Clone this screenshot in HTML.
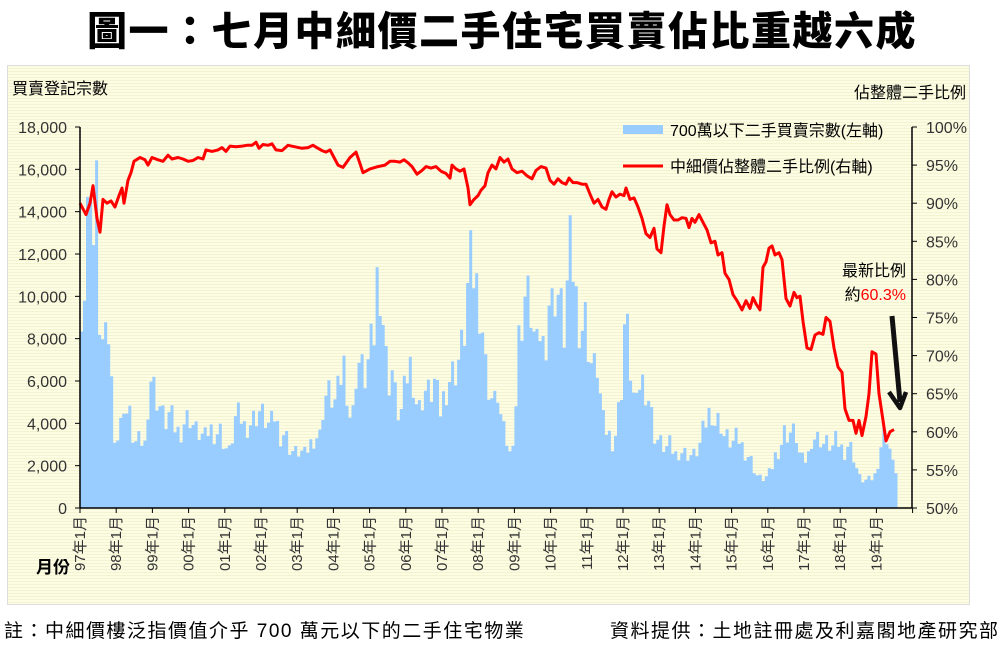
<!DOCTYPE html>
<html><head><meta charset="utf-8">
<style>
html,body{margin:0;padding:0;background:#fff;}
body{width:1004px;height:649px;overflow:hidden;position:relative;font-family:"Liberation Sans","Noto Sans CJK TC",sans-serif;}
.title{position:absolute;left:0;top:-1px;width:1004px;text-align:center;font-size:40px;font-weight:900;letter-spacing:1.5px;color:#000;font-family:"Noto Sans CJK TC","WenQuanYi Zen Hei",sans-serif;}
.panel{position:absolute;left:7px;top:65px;width:961px;height:538px;border:1px solid #ddd;
background:repeating-linear-gradient(180deg,#fdfde4 0px,#fdfde4 2px,#f3f3d2 2px,#f3f3d2 3px);}
.foot{position:absolute;top:616px;font-size:19px;color:#000;font-family:"Liberation Sans","Noto Sans CJK TC",sans-serif;letter-spacing:1.5px;white-space:nowrap;}
</style></head><body>
<div class="title">圖一：七月中細價二手住宅買賣佔比重越六成</div>
<div class="panel"></div>
<svg id="c" width="1004" height="649" style="position:absolute;left:0;top:0" font-family="Liberation Sans, Noto Sans CJK TC, sans-serif"></svg>
<div class="foot" style="left:4px">註：中細價樓泛指價值介乎 700 萬元以下的二手住宅物業</div>
<div class="foot" style="left:610px">資料提供：土地註冊處及利嘉閣地產研究部</div>
<script>
var s='';
var X0=80,Y0=508,Y1=127,R=912;
function yv(v){return Y0-(v/18000)*(Y0-Y1);}
function yp(p){return Y1+(100-p)/50*(Y0-Y1);}
var bk=[[80,10000],[84,9500],[88,14000],[90,17400],[93,13000],[95,11000],[97,15600],[100,8000],[105,7500],[110,8500],[113,3800],[116,3500],[120,3000],[122,5500],[126,4500],[130,4300],[134,3000],[140,3200],[145,3000],[148,5000],[151,6200],[155,5500],[160,4800],[165,4000],[170,4500],[175,3800],[180,3500],[185,4200],[190,4300],[195,3700],[200,3500],[205,3300],[210,3800],[215,3500],[220,3700],[225,2900],[230,2600],[235,4200],[240,4400],[245,3800],[250,4000],[255,4300],[260,4600],[265,4200],[270,3800],[275,4400],[280,3400],[285,3600],[290,2800],[295,2600],[300,2700],[305,2500],[310,3000],[315,3400],[320,3400],[323,4800],[327,5500],[332,5200],[336,4900],[340,6000],[345,7000],[348,5000],[352,3800],[356,6400],[360,7000],[364,6000],[368,6800],[372,7800],[376,8500],[378,12400],[381,10000],[384,8500],[388,5800],[392,6600],[396,5000],[400,4200],[403,5000],[406,6000],[410,6800],[414,6000],[418,4400],[422,5200],[426,5600],[430,5300],[435,6000],[440,4500],[445,5500],[450,6200],[455,6500],[460,7200],[464,8000],[467,10000],[470,11500],[474,11000],[478,10200],[482,9000],[486,6500],[490,5500],[494,4800],[498,5500],[502,3800],[506,3300],[510,2500],[513,3500],[516,5000],[519,8000],[522,9000],[525,10000],[528,9800],[532,9200],[536,7000],[540,8400],[545,7200],[548,10000],[552,9500],[556,10500],[560,9700],[564,8200],[568,11000],[571,12400],[574,11000],[578,9000],[582,8600],[586,9000],[590,7000],[594,6500],[598,6800],[602,4200],[606,3700],[610,3400],[614,3000],[618,4400],[622,6000],[625,9200],[628,8000],[632,5800],[636,4500],[640,6100],[645,5800],[650,5000],[654,3500],[658,3200],[662,3000],[666,2800],[670,3000],[675,2500],[680,2700],[685,2600],[690,2500],[695,2500],[700,3000],[704,3800],[708,4300],[711,4800],[715,4000],[720,4200],[724,3400],[728,3300],[732,3000],[736,3300],[740,3200],[744,2700],[748,2500],[752,2200],[756,1600],[760,1400],[764,1400],[768,1500],[772,1900],[776,2600],[780,2800],[784,3600],[788,3500],[792,3600],[796,3500],[800,2400],[804,2200],[808,2400],[812,3400],[816,3300],[820,3300],[824,3000],[828,3100],[832,2800],[836,3200],[840,3000],[844,2600],[848,3000],[852,2800],[856,2000],[860,1400],[864,1300],[868,1300],[872,1400],[876,1600],[880,2800],[884,3500],[888,3400],[891,2500],[894,1800]];
function interp(k,x){for(var i=0;i<k.length-1;i++){if(x>=k[i][0]&&x<=k[i+1][0]){var t=(x-k[i][0])/(k[i+1][0]-k[i][0]);return k[i][1]+t*(k[i+1][1]-k[i][1]);}}return k[k.length-1][1];}
var mw=36.2/12,d='M'+X0+','+Y0;
for(var m=0;m<271;m++){var x=X0+m*mw;var v=interp(bk,x+mw/2);var jit=((m*37)%11-5)*0.03;v=v*(1+jit);var y=yv(v).toFixed(1);d+=' L'+x.toFixed(1)+','+y+' L'+(x+mw).toFixed(1)+','+y;}
d+=' L'+(X0+271*mw).toFixed(1)+','+Y0+' Z';
s+='<path d="'+d+'" fill="#99ccff"/>';
var lk=[[80,90],[86,88.5],[90,90],[93,92.3],[97,88],[100,86.2],[103,90.5],[107,90],[111,90.3],[115,89.5],[119,91],[122,92],[124,90],[128,93],[131,94],[134,95.5],[140,96],[145,95.7],[148,95],[152,96],[158,95.7],[163,95.5],[168,96.3],[172,95.8],[178,96],[183,95.8],[188,95.5],[193,95.6],[198,96],[203,95.8],[206,97],[212,96.8],[218,97],[222,97.3],[226,96.8],[230,97.5],[236,97.4],[242,97.5],[247,97.6],[252,97.6],[256,98],[259,97.2],[263,97.7],[268,97.6],[272,97.8],[276,97],[282,96.9],[288,97.6],[295,97.4],[302,97.2],[308,97.3],[313,97.6],[318,97.2],[322,96.9],[326,96.7],[330,97],[334,96],[338,95],[343,94.7],[350,96],[356,96.7],[360,95.2],[363,94],[370,94.5],[378,94.8],[385,95],[390,95.5],[395,95.5],[400,95.4],[404,95.7],[408,95.3],[412,94.8],[417,93.8],[422,94.3],[426,94.8],[431,94.6],[436,94.8],[441,94.2],[446,93.9],[450,93.3],[452,95],[456,94.5],[460,94.2],[464,94.5],[468,92],[470,89.8],[474,90.5],[478,91],[481,91.7],[485,92.3],[488,94],[492,95],[496,94.5],[500,96],[504,95.4],[508,95.8],[512,94.5],[517,94],[522,94.2],[527,93.6],[532,93.2],[536,94.3],[541,94.8],[546,94.6],[550,93],[554,92.5],[558,93.2],[562,92.7],[566,92.5],[569,93.3],[573,92.7],[577,92.7],[582,92.5],[586,92.5],[590,91.2],[594,90],[598,90.5],[602,89.5],[606,89.2],[609,90.5],[612,91.5],[616,90.8],[620,91.2],[624,91],[626,92],[630,90.5],[634,90.7],[638,89.5],[642,88],[646,86],[650,85.5],[654,86.7],[657,84],[661,83.5],[664,87],[667,89.8],[670,88.5],[674,87.8],[678,87.8],[682,88.1],[686,88],[689,86.8],[692,88],[695,87.5],[699,88.5],[703,87.5],[707,86.5],[711,84.8],[715,85],[718,83.2],[722,83.5],[725,80.8],[729,80],[733,78],[737,77.2],[742,76],[746,77.2],[750,76.2],[753,77.6],[756,76.8],[760,76],[763,81.6],[766,82.3],[769,84.1],[772,84.4],[775,83.2],[779,83.5],[782,82.6],[786,77.5],[790,76.5],[794,78.3],[797,77.6],[800,77.8],[803,74.5],[807,71],[811,70.8],[815,72.7],[819,73],[823,72.8],[826,75],[830,74.5],[834,71],[838,68.5],[842,67.8],[845,63],[849,61.5],[853,61.5],[856,59.8],[859,61.5],[862,59.5],[866,62],[869,65],[872,70.5],[876,70.2],[879,65],[883,61.5],[886,58.8],[890,60],[894,60.3]];
var pts='';for(var i=0;i<lk.length;i++){pts+=lk[i][0]+','+yp(lk[i][1]).toFixed(1)+' ';}
s+='<polyline points="'+pts+'" fill="none" stroke="#ff0000" stroke-width="3" stroke-linejoin="round"/>';
s+='<line x1="'+X0+'" y1="'+Y1+'" x2="'+X0+'" y2="'+Y0+'" stroke="#000" stroke-width="1.5"/>';
s+='<line x1="'+R+'" y1="'+Y1+'" x2="'+R+'" y2="'+Y0+'" stroke="#000" stroke-width="1.5"/>';
s+='<line x1="'+X0+'" y1="'+Y0+'" x2="'+R+'" y2="'+Y0+'" stroke="#000" stroke-width="1.5"/>';
for(var v=0;v<=18000;v+=2000){var y=yv(v);s+='<line x1="75" y1="'+y+'" x2="'+X0+'" y2="'+y+'" stroke="#000"/>';s+='<text x="67" y="'+(y+6)+'" text-anchor="end" font-size="16" fill="#333">'+v.toLocaleString('en-US')+'</text>';}
for(var p=50;p<=100;p+=5){var y=yp(p);s+='<line x1="'+R+'" y1="'+y+'" x2="'+(R+5)+'" y2="'+y+'" stroke="#000"/>';s+='<text x="926" y="'+(y+6)+'" font-size="16" fill="#333">'+p+'%</text>';}
for(var i=0;i<=23;i++){var x=X0+i*36.2;s+='<line x1="'+x+'" y1="'+Y0+'" x2="'+x+'" y2="'+(Y0+5)+'" stroke="#000"/>';
if(i<=22){var yr=(97+i)%100;var lab=(yr<10?'0':'')+yr+'年1月';s+='<text transform="translate('+(x+5)+',516) rotate(-90)" text-anchor="end" font-size="15" fill="#333">'+lab+'</text>';}}
s+='<text x="12" y="94" font-size="16" fill="#000">買賣登記宗數</text>';
s+='<text x="966" y="98" text-anchor="end" font-size="16" fill="#000">佔整體二手比例</text>';
s+='<text x="36" y="573" font-size="17" font-weight="bold" fill="#000">月份</text>';
s+='<rect x="623" y="125" width="40" height="9" fill="#99ccff"/>';
s+='<text x="670" y="136" font-size="16" fill="#000">700萬以下二手買賣宗數(左軸)</text>';
s+='<line x1="623" y1="166" x2="663" y2="166" stroke="#ff0000" stroke-width="3"/>';
s+='<text x="670" y="172" font-size="16" fill="#000">中細價佔整體二手比例(右軸)</text>';
s+='<text x="906" y="276" text-anchor="end" font-size="16" fill="#000">最新比例</text>';
s+='<text x="906" y="300" text-anchor="end" font-size="16" fill="#000">約<tspan fill="#ff0000">60.3%</tspan></text>';
s+='<path d="M892,316 Q896,360 900,402" fill="none" stroke="#111" stroke-width="5"/>';
s+='<path d="M889,392 L900,408 L906,392" fill="none" stroke="#111" stroke-width="4.5" stroke-linejoin="round"/>';
document.getElementById('c').innerHTML=s;
</script>
</body></html>
